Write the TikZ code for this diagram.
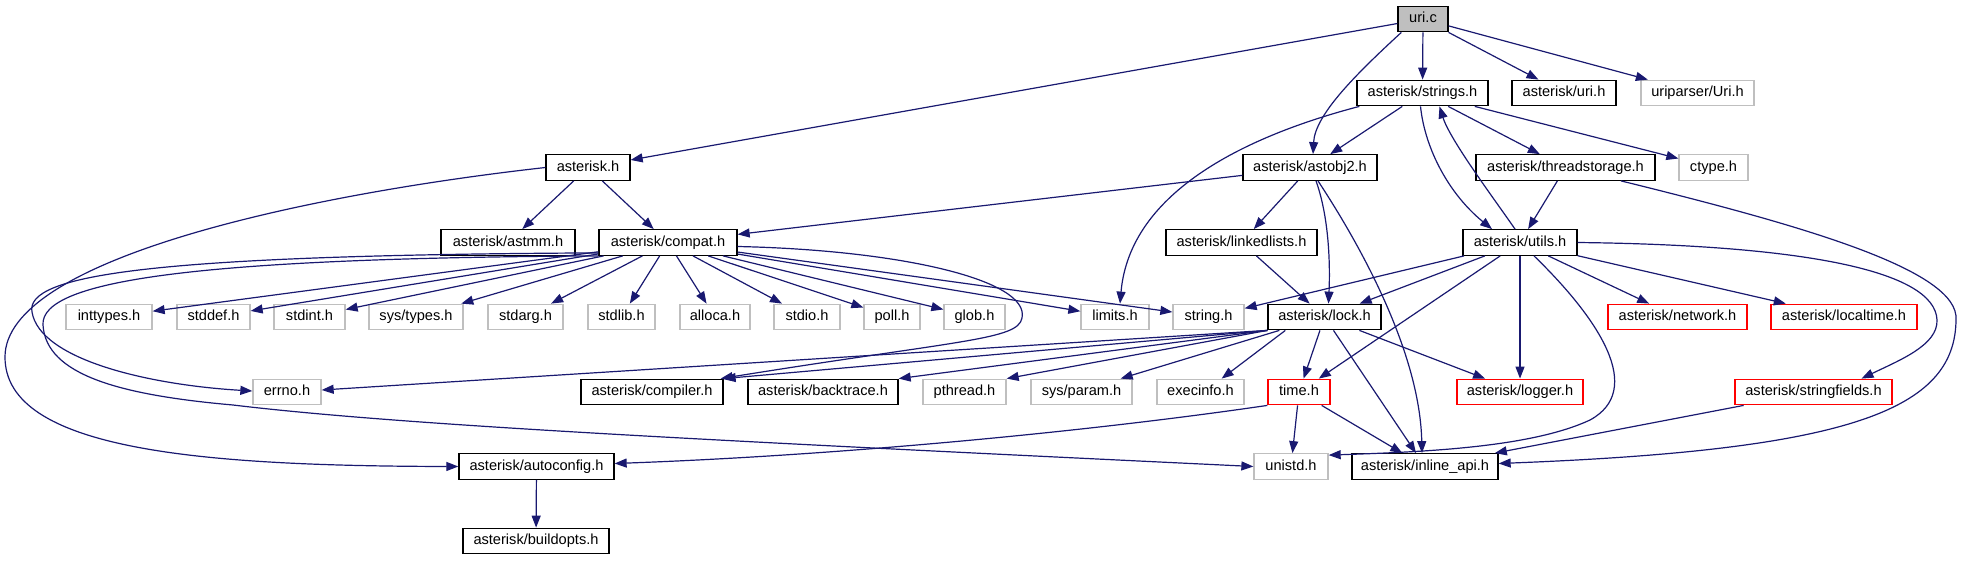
\documentclass[tikz,border=0pt]{standalone}
\usepackage{fontspec}
\setmainfont{Liberation Sans}
\usetikzlibrary{arrows.meta}
\definecolor{edgeblue}{HTML}{191970}
\definecolor{grayb}{HTML}{BFBFBF}
\definecolor{redb}{HTML}{FF0000}
\begin{document}
\begin{tikzpicture}[x=1pt,y=-1pt,
  box/.style={draw=black,line width=1.3pt,minimum height=25.5pt,inner sep=0pt,
    font=\fontsize{14.6}{17}\selectfont,text height=10.5pt,text depth=3pt},
  sysbox/.style={box,draw=grayb},
  redbox/.style={box,draw=redb},
  rootbox/.style={box,fill=grayb},
  dep/.style={draw=edgeblue,line width=1.2pt,-{Triangle[length=12pt,width=9pt]}}
]
\useasboundingbox (0,0) rectangle (1962,560);
% row 1
\node[rootbox,minimum width=50pt] (uri) at (1423,19) {uri.c};
% row 2
\node[box,minimum width=131pt] (strings) at (1422.5,93) {asterisk/strings.h};
\node[box,minimum width=104pt] (urih) at (1564,93) {asterisk/uri.h};
\node[sysbox,minimum width=113pt] (uriparser) at (1697.5,93) {uriparser/Uri.h};
% row 3
\node[box,minimum width=84pt] (asteriskh) at (588,167.5) {asterisk.h};
\node[box,minimum width=134pt] (astobj2) at (1310,167.5) {asterisk/astobj2.h};
\node[box,minimum width=179pt] (threadstorage) at (1565.5,167.5) {asterisk/threadstorage.h};
\node[sysbox,minimum width=69pt] (ctype) at (1713.5,167.5) {ctype.h};
% row 4
\node[box,minimum width=134pt] (astmm) at (508,242.5) {asterisk/astmm.h};
\node[box,minimum width=138pt] (compat) at (668,242.5) {asterisk/compat.h};
\node[box,minimum width=151pt] (linkedlists) at (1241.5,242.5) {asterisk/linkedlists.h};
\node[box,minimum width=114pt] (utils) at (1520,242.5) {asterisk/utils.h};
% row 5
\node[sysbox,minimum width=86pt] (inttypes) at (109,317) {inttypes.h};
\node[sysbox,minimum width=73pt] (stddef) at (213.5,317) {stddef.h};
\node[sysbox,minimum width=71pt] (stdint) at (309.5,317) {stdint.h};
\node[sysbox,minimum width=94pt] (systypes) at (416,317) {sys/types.h};
\node[sysbox,minimum width=75pt] (stdarg) at (525.5,317) {stdarg.h};
\node[sysbox,minimum width=67pt] (stdlib) at (621.5,317) {stdlib.h};
\node[sysbox,minimum width=70pt] (alloca) at (715,317) {alloca.h};
\node[sysbox,minimum width=66pt] (stdio) at (807,317) {stdio.h};
\node[sysbox,minimum width=56pt] (poll) at (892,317) {poll.h};
\node[sysbox,minimum width=61pt] (glob) at (974.5,317) {glob.h};
\node[sysbox,minimum width=68pt] (limits) at (1115,317) {limits.h};
\node[sysbox,minimum width=71pt] (string) at (1208.5,317) {string.h};
\node[box,minimum width=113pt] (lock) at (1324.5,317) {asterisk/lock.h};
\node[redbox,minimum width=139pt] (network) at (1677.5,317) {asterisk/network.h};
\node[redbox,minimum width=146pt] (localtime) at (1844,317) {asterisk/localtime.h};
% row 6
\node[sysbox,minimum width=68pt] (errno) at (287,392) {errno.h};
\node[box,minimum width=142pt] (compiler) at (652,392) {asterisk/compiler.h};
\node[box,minimum width=150pt] (backtrace) at (823,392) {asterisk/backtrace.h};
\node[sysbox,minimum width=83pt] (pthread) at (964.5,392) {pthread.h};
\node[sysbox,minimum width=101pt] (sysparam) at (1081.5,392) {sys/param.h};
\node[sysbox,minimum width=87pt] (execinfo) at (1200.5,392) {execinfo.h};
\node[redbox,minimum width=62pt] (time) at (1299,392) {time.h};
\node[redbox,minimum width=126pt] (logger) at (1520,392) {asterisk/logger.h};
\node[redbox,minimum width=157pt] (stringfields) at (1813.5,392) {asterisk/stringfields.h};
% row 7
\node[box,minimum width=155pt] (autoconfig) at (536.5,466.5) {asterisk/autoconfig.h};
\node[sysbox,minimum width=74pt] (unistd) at (1291,466.5) {unistd.h};
\node[box,minimum width=146pt] (inline) at (1425,466.5) {asterisk/inline\_api.h};
% row 8
\node[box,minimum width=146pt] (buildopts) at (536,541) {asterisk/buildopts.h};

% uri.c
\draw[dep] (uri) -- (asteriskh);
\draw[dep] ([xshift=4pt]uri.south west) .. controls (1355,75) and (1315,115) .. ([xshift=3pt]astobj2.north);
\draw[dep] (uri) -- (strings);
\draw[dep] (uri) -- (urih);
\draw[dep] (uri) -- (uriparser);
% strings.h
\draw[dep] (strings) -- (astobj2);
\draw[dep] ([xshift=3pt]strings.south west) .. controls (1250,135) and (1130,190) .. ([xshift=5pt]limits.north);
\draw[dep] (strings) -- (threadstorage);
\draw[dep] (strings) -- (ctype);
\draw[dep] ([xshift=-2pt]strings.south) .. controls (1425,150) and (1450,195) .. ([xshift=-28pt]utils.north);
\draw[dep] ([xshift=-5pt]utils.north) .. controls (1495,200) and (1450,140) .. ([xshift=17pt]strings.south);
% astobj2.h
\draw[dep] (astobj2) -- (compat);
\draw[dep] (astobj2) -- (linkedlists);
\draw[dep] ([xshift=6pt]astobj2.south) .. controls (1330,220) and (1330,270) .. ([xshift=4pt]lock.north);
\draw[dep] ([xshift=8pt]astobj2.south) .. controls (1370,260) and (1420,360) .. ([xshift=-3pt]inline.north);
% threadstorage.h
\draw[dep] (threadstorage) -- (utils);
\draw[dep] ([xshift=55.5pt]threadstorage.south) .. controls (1800,225) and (1960,270) .. (1956,320)
  .. controls (1955,410) and (1850,450) .. ([yshift=3pt]inline.east);
% asterisk.h
\draw[dep] (asteriskh) -- (astmm);
\draw[dep] (asteriskh) -- (compat);
\draw[dep] (asteriskh.west) .. controls (300,195) and (5,260) .. (5,357)
  .. controls (5,450) and (200,466) .. (autoconfig.west);
% compat.h
\draw[dep] (compat) -- (inttypes);
\draw[dep] (compat) -- (stddef);
\draw[dep] (compat) -- (stdint);
\draw[dep] (compat) -- (systypes);
\draw[dep] (compat) -- (stdarg);
\draw[dep] (compat) -- (stdlib);
\draw[dep] (compat) -- (alloca);
\draw[dep] (compat) -- (stdio);
\draw[dep] (compat) -- (poll);
\draw[dep] (compat) -- (glob);
\draw[dep] (compat) -- (limits);
\draw[dep] (compat) -- (string);
\draw[dep] ([yshift=-4pt]compat.east) .. controls (900,250) and (1030,280) .. (1022,318)
  .. controls (1018,340) and (960,340) .. ([xshift=-3pt]compiler.north east);
\draw[dep] ([yshift=3pt]compat.south west) .. controls (150,255) and (25,275) .. (32,312)
  .. controls (40,360) and (150,385) .. ([yshift=1pt]errno.west);
\draw[dep] (compat.south west) .. controls (200,258) and (40,280) .. (43,325)
  .. controls (46,375) and (120,395) .. (233,405)
  .. controls (400,425) and (700,440) .. (unistd.west);
% linkedlists.h
\draw[dep] (linkedlists) -- (lock);
% utils.h
\draw[dep] (utils) -- (string);
\draw[dep] (utils) -- (lock);
\draw[dep] (utils) -- (time);
\draw[dep] (utils) -- (logger);
\draw[dep] (utils) -- (network);
\draw[dep] (utils) -- (localtime);
\draw[dep] ([xshift=14pt]utils.south) .. controls (1600,320) and (1645,390) .. (1590,420)
  .. controls (1530,448) and (1420,452) .. ([yshift=-2pt]unistd.north east);
\draw[dep] (utils.east) .. controls (1800,245) and (1935,270) .. (1937,320)
  .. controls (1938,345) and (1900,360) .. ([xshift=48pt]stringfields.north);
% lock.h
\draw[dep] (lock.south west) -- ([yshift=2pt]errno.east);
\draw[dep] (lock.south west) -- (compiler.north east);
\draw[dep] (lock.south west) -- (backtrace.north east);
\draw[dep] (lock.south west) -- (pthread.north east);
\draw[dep] ([xshift=12pt]lock.south west) -- ([xshift=-12pt]sysparam.north east);
\draw[dep] ([xshift=18pt]lock.south west) -- ([xshift=-23pt]execinfo.north east);
\draw[dep] (lock) -- (time);
\draw[dep] (lock) -- (logger);
\draw[dep] (lock) -- (inline);
% time.h
\draw[dep] (time.south west) .. controls (1100,430) and (850,455) .. ([yshift=3pt]autoconfig.east);
\draw[dep] (time) -- (unistd);
\draw[dep] (time) -- (inline);
% autoconfig.h
\draw[dep] (autoconfig) -- (buildopts);
% stringfields.h
\draw[dep] (stringfields) -- (inline);
\end{tikzpicture}
\end{document}
